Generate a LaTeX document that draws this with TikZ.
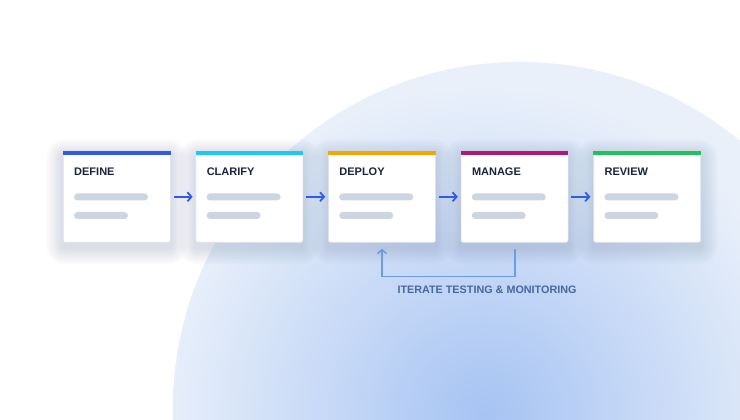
\documentclass[tikz,border=0pt]{standalone}
\usepackage{fontspec}
\setmainfont{Liberation Sans}
\usetikzlibrary{positioning}
\usetikzlibrary{arrows.meta}
\usetikzlibrary{backgrounds}

\definecolor{defineblue}{RGB}{47,91,234}
\definecolor{clarifycyan}{RGB}{30,200,245}
\definecolor{deployorange}{RGB}{247,165,0}
\definecolor{managepink}{RGB}{181,21,122}
\definecolor{reviewgreen}{RGB}{30,196,90}
\definecolor{titlenavy}{RGB}{26,36,62}
\definecolor{bargray}{RGB}{205,213,224}
\definecolor{loopblue}{RGB}{110,155,230}
\definecolor{loopnavy}{RGB}{74,104,154}
\definecolor{glowin}{RGB}{166,195,243}
\definecolor{glowout}{RGB}{233,240,250}
\definecolor{shadowtone}{RGB}{40,60,100}

\tikzset{
  stage/.style={draw={rgb,255:red,221;green,227;blue,236}, line width=0.6pt, fill=white,
    rounded corners=2pt, minimum width=107pt, minimum height=91pt, inner sep=0pt},
  stagetitle/.style={anchor=west, inner sep=0pt, text=titlenavy,
    font=\bfseries\fontsize{11}{13}\selectfont},
  linebar/.style={fill=bargray, rounded corners=3.5pt},
  softshadow/.style={fill=shadowtone, opacity=0.011},
  flow/.style={draw=defineblue, line width=2pt, shorten <=3pt, shorten >=3pt,
    -{Straight Barb[length=4pt,width=9pt,line width=1.8pt]}},
  iterate/.style={draw=loopblue, line width=1.8pt,
    -{Straight Barb[length=4pt,width=9pt,line width=1.6pt]}},
}

% soft shadow under a stage
\newcommand{\stageshadow}[1]{%
  \foreach \s in {1,...,12} {%
    \fill[softshadow, rounded corners=\s*1.4pt+2pt] ([shift={(-\s*1.4pt,-\s*1.4pt-5pt)}]#1.south west) rectangle ([shift={(\s*1.4pt,\s*1.4pt-5pt)}]#1.north east);
  }%
}

\begin{document}
\begin{tikzpicture}[x=1pt,y=1pt]
	\useasboundingbox (0,0) rectangle (740,420);

	% Stages
	\node[stage, anchor=north west] (define) at (63,269) {};
	\node[stage, right=25pt of define] (clarify) {};
	\node[stage, right=25pt of clarify] (deploy) {};
	\node[stage, right=25pt of deploy] (manage) {};
	\node[stage, right=25pt of manage] (review) {};

	\begin{scope}[on background layer]
	\fill[white] (0,0) rectangle (740,420);
	% Background circle
	\begin{scope}
	\clip (520,11) circle (347pt);
	\fill[glowout] (0,0) rectangle (740,420);
	\shade[inner color=glowin, outer color=glowout] (485,5) circle (330pt);
	\end{scope}
	% Shadows
	\stageshadow{define}
	\stageshadow{clarify}
	\stageshadow{deploy}
	\stageshadow{manage}
	\stageshadow{review}
	\end{scope}

	% Top bars
	\fill[defineblue] (define.north west) rectangle ([yshift=-4pt]define.north east);
	\fill[clarifycyan] (clarify.north west) rectangle ([yshift=-4pt]clarify.north east);
	\fill[deployorange] (deploy.north west) rectangle ([yshift=-4pt]deploy.north east);
	\fill[managepink] (manage.north west) rectangle ([yshift=-4pt]manage.north east);
	\fill[reviewgreen] (review.north west) rectangle ([yshift=-4pt]review.north east);

	% Text Node
	\node[stagetitle] (definetxt) at ([xshift=11pt,yshift=-21pt]define.north west) {DEFINE};
	% Text Node
	\node[stagetitle] (clarifytxt) at ([xshift=11pt,yshift=-21pt]clarify.north west) {CLARIFY};
	% Text Node
	\node[stagetitle] (deploytxt) at ([xshift=11pt,yshift=-21pt]deploy.north west) {DEPLOY};
	% Text Node
	\node[stagetitle] (managetxt) at ([xshift=11pt,yshift=-21pt]manage.north west) {MANAGE};
	% Text Node
	\node[stagetitle] (reviewtxt) at ([xshift=11pt,yshift=-21pt]review.north west) {REVIEW};

	% Placeholder lines
	\fill[linebar] ([xshift=11pt,yshift=-42.5pt]define.north west) rectangle ++(74pt,-7pt);
	\fill[linebar] ([xshift=11pt,yshift=-61pt]define.north west) rectangle ++(54pt,-7pt);
	\fill[linebar] ([xshift=11pt,yshift=-42.5pt]clarify.north west) rectangle ++(74pt,-7pt);
	\fill[linebar] ([xshift=11pt,yshift=-61pt]clarify.north west) rectangle ++(54pt,-7pt);
	\fill[linebar] ([xshift=11pt,yshift=-42.5pt]deploy.north west) rectangle ++(74pt,-7pt);
	\fill[linebar] ([xshift=11pt,yshift=-61pt]deploy.north west) rectangle ++(54pt,-7pt);
	\fill[linebar] ([xshift=11pt,yshift=-42.5pt]manage.north west) rectangle ++(74pt,-7pt);
	\fill[linebar] ([xshift=11pt,yshift=-61pt]manage.north west) rectangle ++(54pt,-7pt);
	\fill[linebar] ([xshift=11pt,yshift=-42.5pt]review.north west) rectangle ++(74pt,-7pt);
	\fill[linebar] ([xshift=11pt,yshift=-61pt]review.north west) rectangle ++(54pt,-7pt);

	% Arrows
	\draw[flow] (define) -- (clarify);
	\draw[flow] (clarify) -- (deploy);
	\draw[flow] (deploy) -- (manage);
	\draw[flow] (manage) -- (review);

	% Feedback loop
	\coordinate (loopstart) at ([yshift=-6pt]manage.south);
	\coordinate (loopend) at ([yshift=-6pt]deploy.south);
	\draw[iterate] (loopstart) -- ++(0pt,-28pt) -| (loopend);

	% Text Node
	\node[inner sep=0pt, text=loopnavy, font=\bfseries\fontsize{10.8}{13}\selectfont] (looptxt) at (487,130) {ITERATE TESTING \& MONITORING};

\end{tikzpicture}
\end{document}
